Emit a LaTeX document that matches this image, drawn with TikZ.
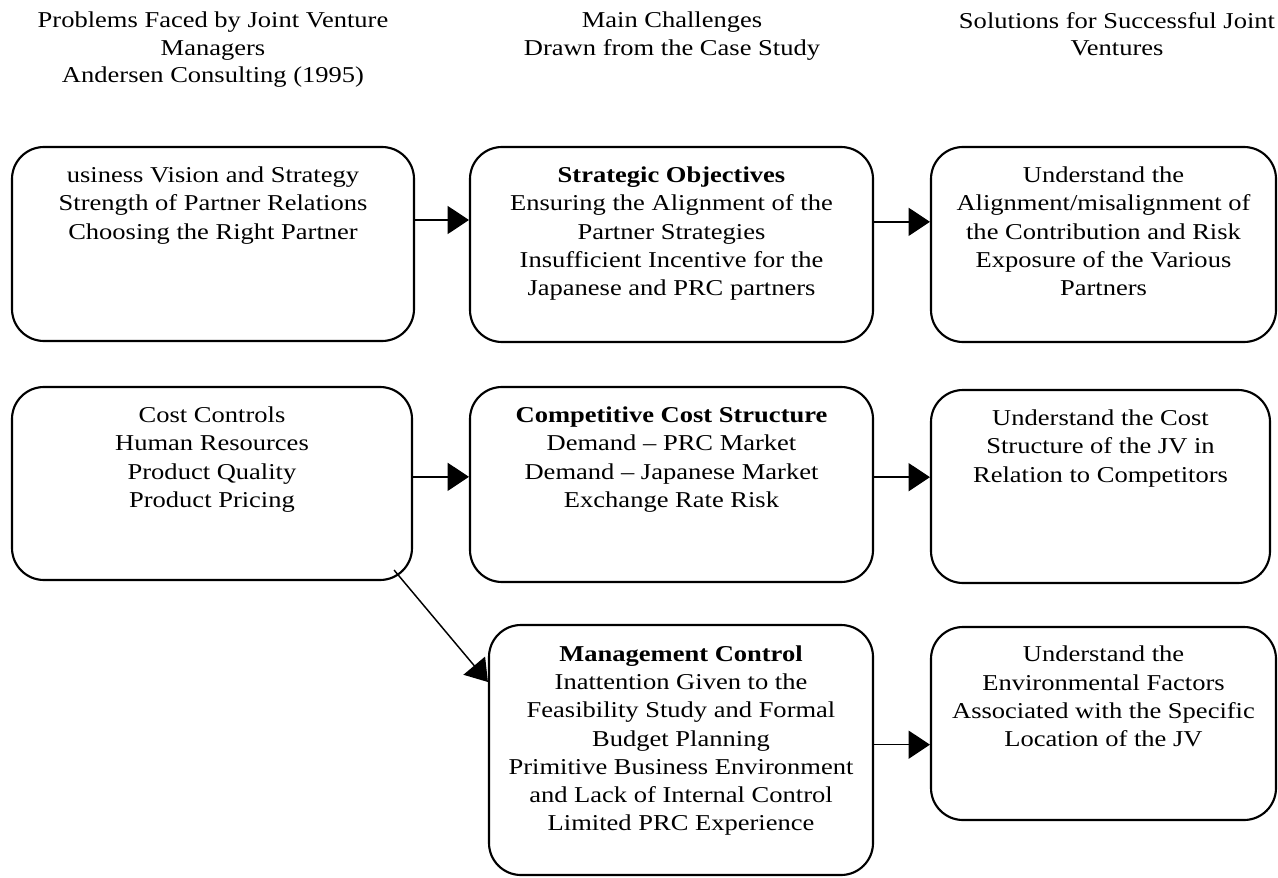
\documentclass[tikz,border=0pt]{standalone}
\usepackage{fontspec}
\setmainfont{Liberation Serif}[FakeStretch=1.17]
\usetikzlibrary{positioning,arrows.meta}

\begin{document}
\begin{tikzpicture}[x=0.75pt, y=-0.75pt,
    box/.style 2 args={draw, line width=1.6pt, rounded corners=24pt,
        minimum width=#1, minimum height=#2, inner sep=0pt},
    boxtext/.style={align=center, inner sep=0pt,
        font=\fontsize{17pt}{21.2pt}\selectfont},
    head/.style={align=center, inner sep=0pt, anchor=north,
        font=\fontsize{17pt}{20.3pt}\selectfont},
    arr/.style={line width=1.1pt, -{Triangle[length=16pt, width=21pt]}}]
    \useasboundingbox (0,0) rectangle (1278,878);

    % column headings
    \node[head] (h1) at (213,12) {Problems Faced by Joint Venture\\ Managers\\ Andersen Consulting (1995)};
    \node[head] (h2) at (672,12) {Main Challenges\\ Drawn from the Case Study};
    \node[head] (h3) at (1117,12) {Solutions for Successful Joint\\ Ventures};

    % left column: problems
    \node[box={301.5pt}{145.5pt}] (a1) at (213,244) {};
    \node[boxtext, below=15.5pt of a1.north] (a1t)
        {usiness Vision and Strategy\\ Strength of Partner Relations\\ Choosing the Right Partner};
    \node[box={300pt}{144.75pt}] (a2) at (212,483.5) {};
    \node[boxtext, below=15.5pt of a2.north] (a2t)
        {Cost Controls\\ Human Resources\\ Product Quality\\ Product Pricing};

    % middle column: challenges
    \node[box={302.25pt}{146.25pt}] (b1) at (671.5,244.5) {};
    \node[boxtext, below=15.5pt of b1.north] (b1t)
        {\textbf{Strategic Objectives}\\ Ensuring the Alignment of the\\ Partner Strategies\\
         Insufficient Incentive for the\\ Japanese and PRC partners};
    \node[box={302.25pt}{146.25pt}] (b2) at (671.5,484.5) {};
    \node[boxtext, below=15.5pt of b2.north] (b2t)
        {\textbf{Competitive Cost Structure}\\ Demand -- PRC Market\\ Demand -- Japanese Market\\ Exchange Rate Risk};
    \node[box={288pt}{187.5pt}] (b3) at (681,750) {};
    \node[boxtext, below=16pt of b3.north] (b3t)
        {\textbf{Management Control}\\ Inattention Given to the\\ Feasibility Study and Formal\\ Budget Planning\\
         Primitive Business Environment\\ and Lack of Internal Control\\ Limited PRC Experience};

    % right column: solutions
    \node[box={258.75pt}{146.25pt}] (c1) at (1103.5,244.5) {};
    \node[boxtext, below=15.5pt of c1.north] (c1t)
        {Understand the\\ Alignment/misalignment of\\ the Contribution and Risk\\ Exposure of the Various\\ Partners};
    \node[box={254.25pt}{144.75pt}] (c2) at (1100.5,486.5) {};
    \node[boxtext, below=15.5pt of c2.north] (c2t)
        {Understand the Cost\\ Structure of the JV in\\ Relation to Competitors};
    \node[box={258.75pt}{144.75pt}] (c3) at (1103.5,723.5) {};
    \node[boxtext, below=15pt of c3.north] (c3t)
        {Understand the\\ Environmental Factors\\ Associated with the Specific\\ Location of the JV};

    % arrows
    \draw[arr] ([yshift=18pt]a1.east) -- ([yshift=18pt]a1.east -| b1.west);
    \draw[arr] ([yshift=17pt]b1.east) -- ([yshift=17pt]b1.east -| c1.west);
    \draw[arr] ([yshift=5pt]a2.east) -- ([yshift=5pt]a2.east -| b2.west);
    \draw[arr] ([yshift=5.5pt]b2.east) -- ([yshift=5.5pt]b2.east -| c2.west);
    \draw[arr] ([shift={(-19,-11)}]a2.south east) -- ([yshift=51pt]b3.west);
    \draw[arr] ([yshift=4pt]b3.east) -- ([yshift=4pt]b3.east -| c3.west);
\end{tikzpicture}
\end{document}
